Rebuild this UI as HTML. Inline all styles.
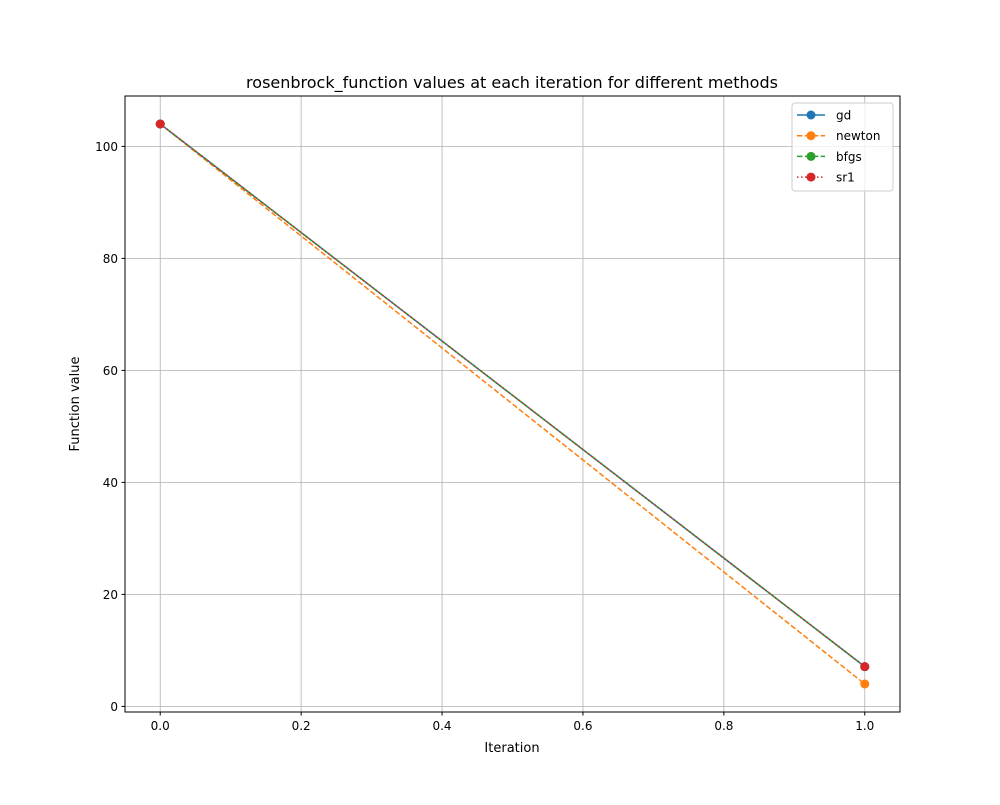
<!DOCTYPE html>
<html><head><meta charset="utf-8"><style>
body{margin:0;background:#fff}
svg text{font-family:"DejaVu Sans","Liberation Sans",sans-serif;fill:#000}
</style></head><body>
<svg width="1000" height="800" xmlns="http://www.w3.org/2000/svg" id="svg">
<rect width="1000" height="800" fill="#fff"/>
<text x="512" y="88" font-size="16" text-anchor="middle">rosenbrock_function values at each iteration for different methods</text>
<g id="grid"></g><g id="ticks"></g><g id="series"></g>
<rect x="125" y="96" width="775" height="616" fill="none" stroke="#000" stroke-width="1"/>
<text x="512" y="752" font-size="13" text-anchor="middle">Iteration</text>
<text transform="translate(79,404) rotate(-90)" font-size="13" text-anchor="middle">Function value</text>
<g id="legend"></g>
</svg>
<script>
const iterations=[0,1];
const seriesNames=["gd","newton","bfgs","sr1"];
const gdValues=[104,7.1];
const newtonValues=[104,4.0];
const bfgsValues=[104,7.1];
const sr1Values=[104,7.1];
const xTicks=[0,0.2,0.4,0.6,0.8,1.0];
const xTickLabels=["0.0","0.2","0.4","0.6","0.8","1.0"];
const yTicks=[0,20,40,60,80,100];
const yTickLabels=["0","20","40","60","80","100"];
const NS="http://www.w3.org/2000/svg";
const L=125,R=900,T=96,B=712;
const allV=[...gdValues,...newtonValues,...bfgsValues,...sr1Values];
const ymin=Math.min(...allV),ymax=Math.max(...allV),ym=(ymax-ymin)*0.05;
const y0=ymin-ym,y1=ymax+ym;
const xmin=Math.min(...iterations),xmax=Math.max(...iterations),xm=(xmax-xmin)*0.05;
const X=v=>L+(v-(xmin-xm))/((xmax+xm)-(xmin-xm))*(R-L);
const Y=v=>B-(v-y0)/(y1-y0)*(B-T);
function mk(tag,attrs,parent){const e=document.createElementNS(NS,tag);for(const k in attrs)e.setAttribute(k,attrs[k]);document.getElementById(parent).appendChild(e);return e;}
xTicks.forEach((t,i)=>{
 const g=mk("line",{x1:X(t),x2:X(t),y1:T,y2:B,stroke:"#b0b0b0","stroke-width":0.8},"grid");
 
 
 mk("line",{x1:X(t),x2:X(t),y1:B,y2:B+3.5,stroke:"#000"},"ticks");
 const tx=mk("text",{x:X(t),y:B+18,"font-size":12,"text-anchor":"middle"},"ticks");tx.textContent=xTickLabels[i];
 
 
});
yTicks.forEach((t,i)=>{
 const g=mk("line",{x1:L,x2:R,y1:Y(t),y2:Y(t),stroke:"#b0b0b0","stroke-width":0.8},"grid");
 
 
 mk("line",{x1:L-3.5,x2:L,y1:Y(t),y2:Y(t),stroke:"#000"},"ticks");
 const tx=mk("text",{x:L-7,y:Y(t)+4.5,"font-size":12,"text-anchor":"end"},"ticks");tx.textContent=yTickLabels[i];
 
 
});
const vals=[gdValues,newtonValues,bfgsValues,sr1Values];
const colors=["#1f77b4","#ff7f0e","#2ca02c","#d62728"];
const dashes=["","5.5,2.4","5.5,2.4","1.5,2.5"];
vals.forEach((v,s)=>{
 const pts=iterations.map((x,i)=>X(x)+","+Y(v[i])).join(" ");
 const pl=mk("polyline",{points:pts,fill:"none",stroke:colors[s],"stroke-width":1.5,"stroke-dasharray":dashes[s]},"series");
 
 
 iterations.forEach((x,i)=>{
  const c=mk("circle",{cx:X(x),cy:Y(v[i]),r:4.5,fill:colors[s]},"series");
  
  
 });
});
const lb=mk("rect",{x:792,y:103,width:101,height:88,rx:3,fill:"#fff","fill-opacity":0.8,stroke:"#ccc"},"legend");


seriesNames.forEach((n,s)=>{
 const yy=115+s*20.7;
 mk("line",{x1:797,x2:825,y1:yy,y2:yy,stroke:colors[s],"stroke-width":1.5,"stroke-dasharray":dashes[s]},"legend");
 mk("circle",{cx:811,cy:yy,r:4.5,fill:colors[s]},"legend");
 const t=mk("text",{x:836,y:yy+4.5,"font-size":12},"legend");t.textContent=n;
 
 
});
</script>
</body></html>
